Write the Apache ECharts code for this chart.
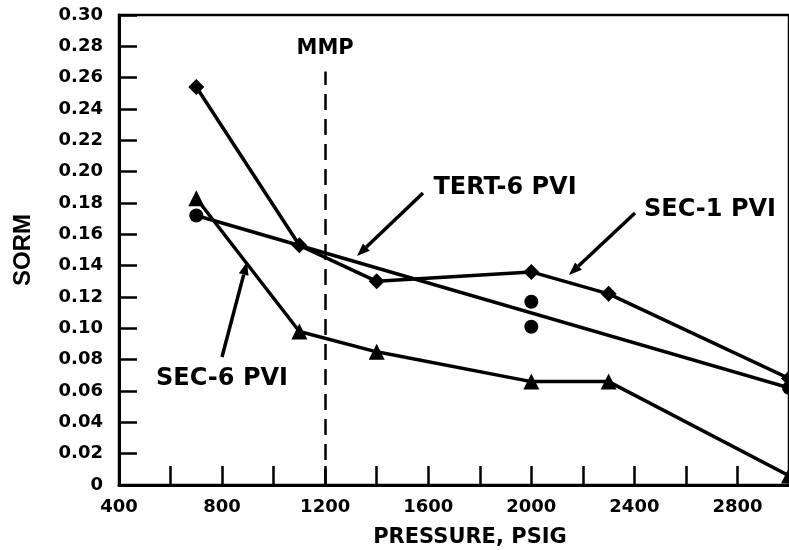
<!DOCTYPE html>
<html>
<head>
<meta charset="utf-8">
<script src="https://cdn.jsdelivr.net/npm/echarts@6/dist/echarts.min.js"></script>
<style>
  html, body { margin: 0; padding: 0; background: #fff; }
  #chart { width: 789px; height: 550px; }
</style>
</head>
<body>
<div id="chart"></div>
<script>
// Residual oil saturation (SORM) vs. pressure
const pressure = [700, 1100, 1400, 2000, 2300, 3000];
const sec1Sorm = [0.254, 0.153, 0.130, 0.136, 0.122, 0.068];
const sec6Sorm = [0.183, 0.098, 0.085, 0.066, 0.066, 0.006];

const tertPressure = [700, 2000, 2000, 3000];
const tertSorm = [0.172, 0.117, 0.101, 0.062];
const tertFitPressure = [700, 3000];
const tertFitSorm = [0.172, 0.062];

const mmpPressure = 1200;
const mmpTop = 0.264;

const xMin = 400, xMax = 3000, xStep = 200;
const yMin = 0, yMax = 0.30, yStep = 0.02;

const FONT = 'DejaVu Sans';
const ink = '#000';

const zip = (xs, ys) => xs.map((x, i) => [x, ys[i]]);

const chart = echarts.init(document.getElementById('chart'), null, { renderer: 'canvas' });

// Arrow graphic: shaft from the label to the tip, with a filled head
function arrow(x1, y1, x2, y2) {
  const dx = x2 - x1, dy = y2 - y1;
  const len = Math.hypot(dx, dy);
  const ux = dx / len, uy = dy / len;
  const hl = 13, hw = 5;
  const bx = x2 - ux * hl, by = y2 - uy * hl;
  return [
    { type: 'line', shape: { x1, y1, x2: bx, y2: by }, style: { stroke: ink, lineWidth: 3.5 }, z: 10 },
    { type: 'polygon', shape: { points: [[x2, y2], [bx - uy * hw, by + ux * hw], [bx + uy * hw, by - ux * hw]] },
      style: { fill: ink }, z: 10 }
  ];
}

function label(text, x, y) {
  return { type: 'text', x, y, z: 10,
    style: { text, fill: ink, font: 'bold 24px "' + FONT + '"', textAlign: 'center', textVerticalAlign: 'middle' } };
}

const option = {
  animation: false,
  backgroundColor: '#fff',
  grid: {
    left: 119, top: 15, width: 670, height: 470,
    containLabel: false, outerBoundsMode: 'none',
    show: true, borderColor: ink, borderWidth: 2.5, backgroundColor: 'transparent'
  },
  xAxis: {
    type: 'value', min: xMin, max: xMax, interval: xStep,
    name: 'PRESSURE, PSIG', nameLocation: 'middle', nameGap: 42,
    nameTextStyle: { color: ink, fontFamily: FONT, fontWeight: 'bold', fontSize: 21, padding: [0, 0, 0, 32] },
    axisLine: { show: true, onZero: false, lineStyle: { color: ink, width: 3 } },
    axisTick: { show: true, inside: true, length: 19, lineStyle: { color: ink, width: 2.5 } },
    splitLine: { show: false },
    axisLabel: {
      margin: 13, color: ink, fontFamily: FONT, fontWeight: 'bold', fontSize: 18,
      formatter: v => (v % 400 === 0 && v < xMax) ? String(v) : ''
    }
  },
  yAxis: {
    type: 'value', min: yMin, max: yMax, interval: yStep,
    name: 'SORM', nameLocation: 'middle', nameGap: 84, nameRotate: 90,
    nameTextStyle: { color: ink, fontFamily: 'Liberation Sans', fontWeight: 'bold', fontSize: 24 },
    axisLine: { show: true, onZero: false, lineStyle: { color: ink, width: 3 } },
    axisTick: { show: true, inside: true, length: 18, lineStyle: { color: ink, width: 2.5 } },
    splitLine: { show: false },
    axisLabel: {
      margin: 16, color: ink, fontFamily: FONT, fontWeight: 'bold', fontSize: 18,
      formatter: v => v === 0 ? '0' : v.toFixed(2)
    }
  },
  series: [
    {
      name: 'SEC-1 PVI', type: 'line', data: zip(pressure, sec1Sorm),
      symbol: 'diamond', symbolSize: 16, clip: false,
      lineStyle: { color: ink, width: 3.5 }, itemStyle: { color: ink, opacity: 1 }
    },
    {
      name: 'SEC-6 PVI', type: 'line', data: zip(pressure, sec6Sorm),
      symbol: 'triangle', symbolSize: 16, clip: false,
      lineStyle: { color: ink, width: 3.5 }, itemStyle: { color: ink, opacity: 1 }
    },
    {
      name: 'TERT-6 PVI fit', type: 'line', data: zip(tertFitPressure, tertFitSorm),
      showSymbol: false, symbol: 'none',
      lineStyle: { color: ink, width: 3.5 },
      markLine: {
        silent: true, symbol: 'none',
        lineStyle: { color: ink, width: 2.5, type: [16, 9] },
        label: { show: true, position: 'end', distance: 12, formatter: 'MMP',
          color: ink, fontFamily: FONT, fontWeight: 'bold', fontSize: 21 },
        data: [[{ coord: [mmpPressure, yMin] }, { coord: [mmpPressure, mmpTop] }]]
      }
    },
    {
      name: 'TERT-6 PVI', type: 'scatter', data: zip(tertPressure, tertSorm),
      symbol: 'circle', symbolSize: 14, clip: false, itemStyle: { color: ink, opacity: 1 }
    }
  ],
  graphic: [
    label('TERT-6 PVI', 505, 188),
    label('SEC-1 PVI', 710, 210),
    label('SEC-6 PVI', 222, 379),
    ...arrow(423, 193, 357, 256),
    ...arrow(635, 213, 569, 275),
    ...arrow(222, 357, 247, 262)
  ]
};

chart.setOption(option);
</script>
</body>
</html>
